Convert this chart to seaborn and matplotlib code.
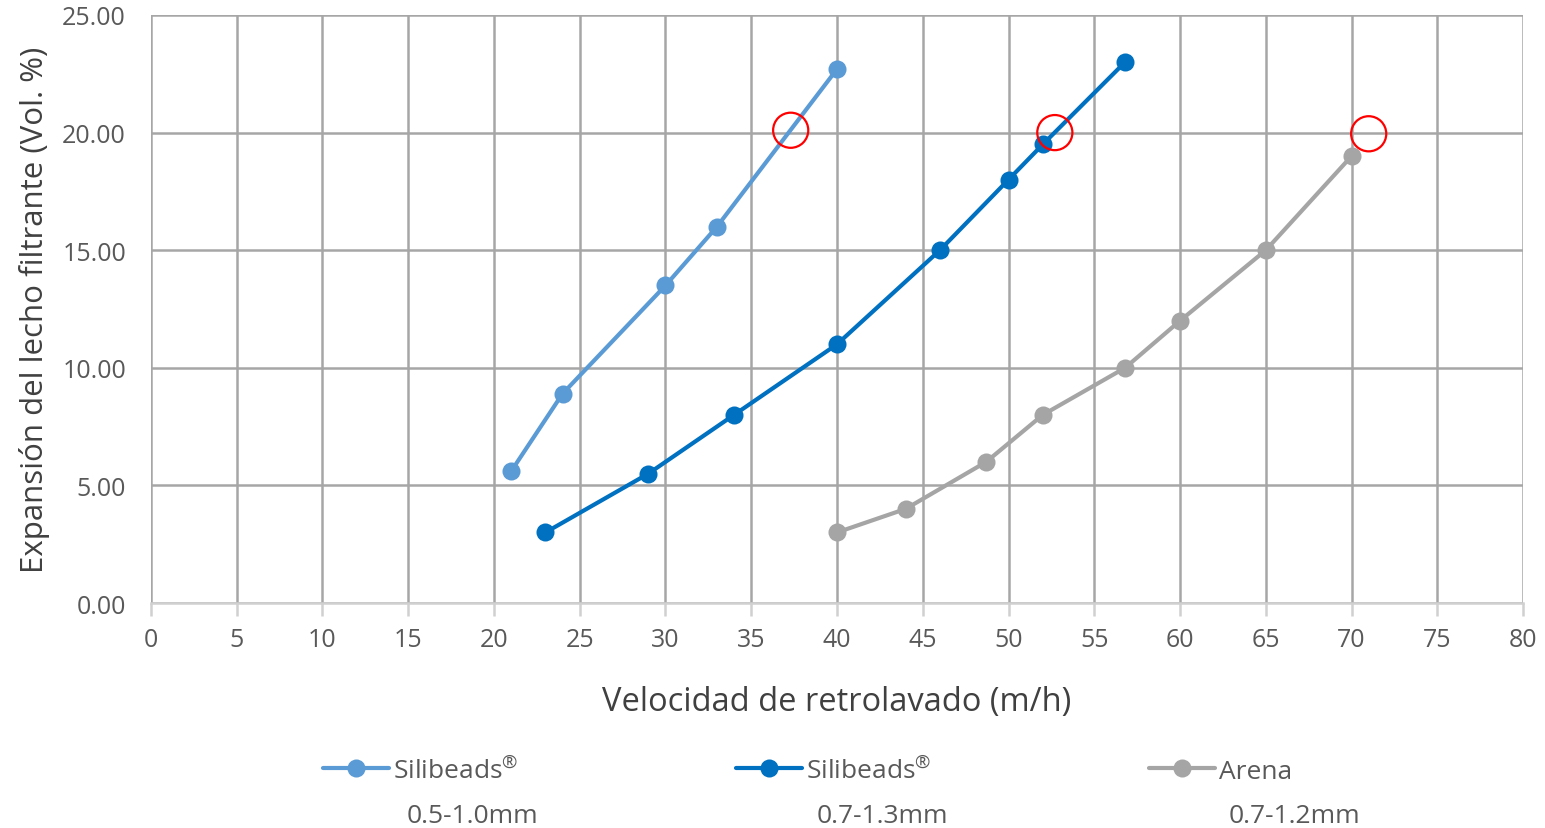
import numpy as np
import pandas as pd
import matplotlib
matplotlib.use("Agg")
import matplotlib.pyplot as plt
import seaborn as sns

# Backwash velocity (m/h) vs. bed expansion (Vol. %) for each filter medium
silibeads_05_x = [21, 24, 30, 33, 40]
silibeads_05_y = [5.6, 8.9, 13.5, 16.0, 22.7]

silibeads_07_x = [23, 29, 34, 40, 46, 50, 52, 56.8]
silibeads_07_y = [3.0, 5.5, 8.0, 11.0, 15.0, 18.0, 19.5, 23.0]

arena_x = [40, 44, 48.7, 52, 56.8, 60, 65, 70]
arena_y = [3.0, 4.0, 6.0, 8.0, 10.0, 12.0, 15.0, 19.0]

# Points where each medium reaches ~20 % expansion
marker_x = [37.3, 52.7, 71.0]
marker_y = [20.1, 20.0, 19.95]

series_names = ["Silibeads® 0.5-1.0mm", "Silibeads® 0.7-1.3mm", "Arena 0.7-1.2mm"]
legend_names = ["Silibeads$^{®}$", "Silibeads$^{®}$", "Arena"]
series_sizes = ["0.5-1.0mm", "0.7-1.3mm", "0.7-1.2mm"]
series_colors = ["#5B9BD5", "#0070C0", "#A5A5A5"]

x_ticks = list(range(0, 85, 5))
y_ticks = [0, 5, 10, 15, 20, 25]

frames = []
for name, xs, ys in zip(series_names,
                        [silibeads_05_x, silibeads_07_x, arena_x],
                        [silibeads_05_y, silibeads_07_y, arena_y]):
    frames.append(pd.DataFrame({"x": xs, "y": ys, "serie": name}))
df = pd.concat(frames, ignore_index=True)

sns.set_theme(style="whitegrid")
plt.rcParams["font.family"] = ["Open Sans", "DejaVu Sans"]
plt.rcParams["mathtext.fontset"] = "custom"
plt.rcParams["mathtext.rm"] = "Open Sans"
plt.rcParams["mathtext.it"] = "Open Sans"
plt.rcParams["mathtext.default"] = "rm"

text_gray = "#595959"
grid_gray = "#A6A6A6"

fig = plt.figure(figsize=(15.45, 8.29), dpi=100)
ax = fig.add_axes([0.0977, 0.2714, 0.8881, 0.7093])

sns.lineplot(data=df, x="x", y="y", hue="serie", hue_order=series_names,
             palette=series_colors, marker="o", markersize=13, linewidth=3,
             markeredgewidth=0, sort=False, estimator=None, ax=ax, legend=False)

ax.scatter(marker_x, marker_y, s=640, facecolors="none", edgecolors="#FF0000",
           linewidths=1.6, zorder=5)

ax.set_xlim(0, 80)
ax.set_ylim(0, 25)
ax.set_xticks(x_ticks)
ax.set_yticks(y_ticks)
ax.set_yticklabels([f"{v:.2f}" for v in y_ticks])

ax.grid(True, color=grid_gray, linewidth=1.8)
ax.set_axisbelow(True)
for side in ["left", "top", "right"]:
    ax.spines[side].set_visible(False)
ax.spines["bottom"].set_color("#D0D0D0")
ax.spines["bottom"].set_linewidth(1.8)

ax.tick_params(axis="x", which="major", bottom=True, length=9, width=1.8,
               color="#D0D0D0", labelsize=18, labelcolor=text_gray, pad=8)
ax.tick_params(axis="y", length=0, labelsize=18, labelcolor=text_gray, pad=18)

ax.set_xlabel("Velocidad de retrolavado (m/h)", fontsize=23.5, color="#404040",
              labelpad=24)
ax.set_ylabel("Expansión del lecho filtrante (Vol. %)", fontsize=22.5,
              color="#404040", labelpad=9)

# Legend: line+marker handles with the product name, size range underneath
handles = [plt.Line2D([], [], color=c, linewidth=3, marker="o", markersize=13,
                      markeredgewidth=0) for c in series_colors]
leg = fig.legend(handles, legend_names, ncol=3,
                 loc="center left", bbox_to_anchor=(0.1935, 0.07),
                 frameon=False, fontsize=19, handlelength=2.5,
                 handletextpad=0.15, columnspacing=8.25, labelcolor=text_gray)

size_x = [0.306, 0.571, 0.838]
for xpos, txt in zip(size_x, series_sizes):
    fig.text(xpos, 0.015, txt, ha="center", va="center", fontsize=19,
             color=text_gray)

fig.savefig("out.png", dpi=100)
